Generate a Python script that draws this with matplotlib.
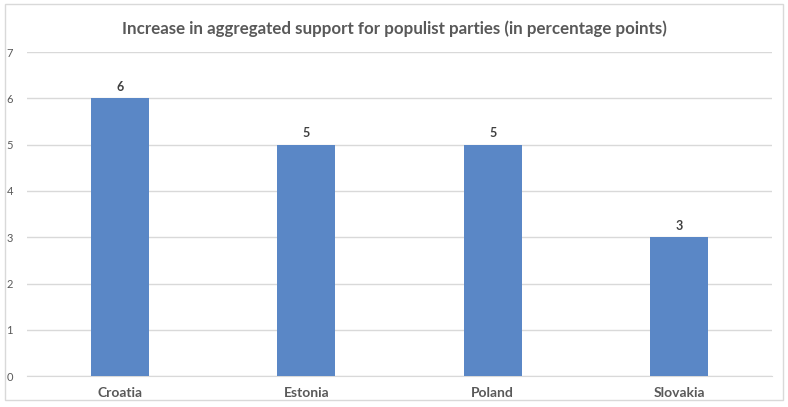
import matplotlib.pyplot as plt
from matplotlib.patches import Rectangle

# data
countries = ['Croatia', 'Estonia', 'Poland', 'Slovakia']
increase = [6, 5, 5, 3]
yticks = [0, 1, 2, 3, 4, 5, 6, 7]

plt.rcParams['font.family'] = ['Lato', 'DejaVu Sans']

fig = plt.figure(figsize=(7.88, 4.07), dpi=100)
# light chart border like the excel frame
fig.patches.append(Rectangle((0.006, 0.017), 0.988, 0.972, transform=fig.transFigure,
                             fill=False, edgecolor='#d9d9d9', linewidth=1))

ax = fig.add_axes([0.034, 0.076, 0.946, 0.796])
x = range(len(countries))
bars = ax.bar(x, increase, width=0.31, color='#5a87c6', zorder=3)

for b, v in zip(bars, increase):
    ax.text(b.get_x() + b.get_width() / 2, v + 0.12, str(v), ha='center', va='bottom',
            fontsize=9, fontweight='bold', color='#404040')

ax.set_xlim(-0.5, 3.5)
ax.set_ylim(0, 7)
ax.set_yticks(yticks)
ax.set_xticks(list(x))
ax.set_xticklabels(countries, fontsize=10, fontweight='bold', color='#595959')
ax.tick_params(axis='y', labelsize=8, colors='#595959', length=0, pad=10)
ax.tick_params(axis='x', length=0, pad=8)
ax.grid(axis='y', color='#d9d9d9', linewidth=1, zorder=0)
for s in ['top', 'right', 'left']:
    ax.spines[s].set_visible(False)
ax.spines['bottom'].set_color('#d9d9d9')

fig.text(0.5, 0.93, 'Increase in aggregated support for populist parties (in percentage points)',
         ha='center', va='center', fontsize=12.2, fontweight='bold', color='#595959')

fig.savefig('out.png', dpi=100)
